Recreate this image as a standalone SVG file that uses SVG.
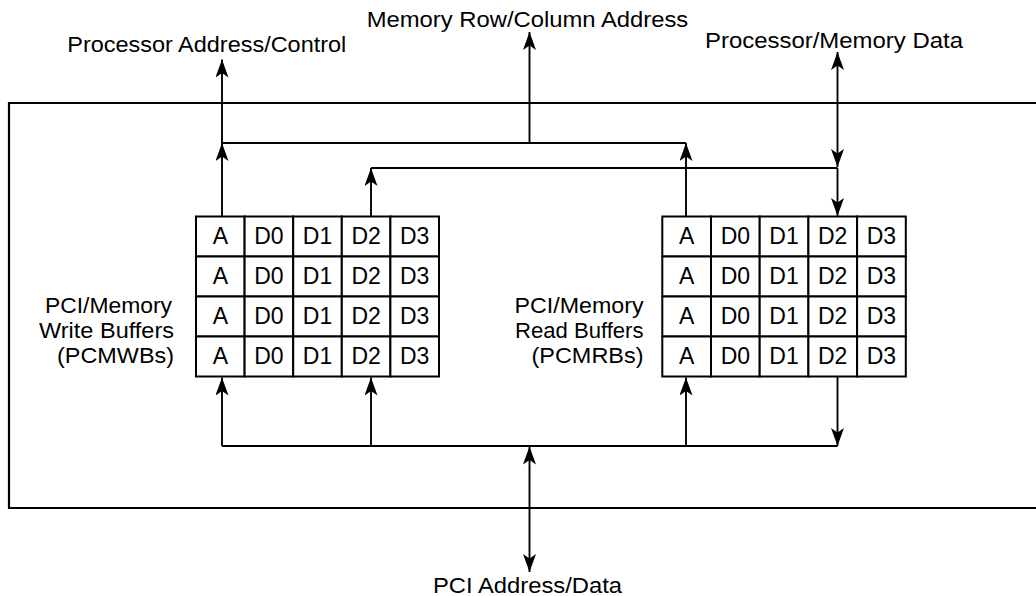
<svg xmlns="http://www.w3.org/2000/svg" width="1036" height="596" viewBox="0 0 1036 596">
<style>
text{font-family:"Liberation Sans",Arial,Helvetica,sans-serif;font-size:22px;fill:#000}
.cell{fill:#fff;stroke:#000;stroke-width:2}
.ct{text-anchor:middle;font-size:23px}
.lab{text-anchor:end}
.frame{fill:none;stroke:#000;stroke-width:2.2}
.c{fill:none;stroke:#000;stroke-width:1.9}
.a{marker-end:url(#ah)}
.d{marker-start:url(#ah);marker-end:url(#ah)}
</style>
<defs>
<marker id="ah" markerUnits="userSpaceOnUse" viewBox="0 0 18 13" refX="18" refY="6.5" markerWidth="18" markerHeight="13" orient="auto-start-reverse">
<path d="M0,0 L18,6.5 L0,13 L4.5,6.5 Z" fill="#000"/>
</marker>
</defs>
<rect width="1036" height="596" fill="#fff"/>
<g id="frame"><path class="frame" d="M1040,103 H9 V508 H1040"/></g>

<g id="write-buffers">
<g id="wb-grid">
<rect class="cell" x="196" y="216.5" width="48.6" height="40"/><rect class="cell" x="244.6" y="216.5" width="48.6" height="40"/><rect class="cell" x="293.2" y="216.5" width="48.6" height="40"/><rect class="cell" x="341.8" y="216.5" width="48.6" height="40"/><rect class="cell" x="390.4" y="216.5" width="48.6" height="40"/>
<rect class="cell" x="196" y="256.5" width="48.6" height="40"/><rect class="cell" x="244.6" y="256.5" width="48.6" height="40"/><rect class="cell" x="293.2" y="256.5" width="48.6" height="40"/><rect class="cell" x="341.8" y="256.5" width="48.6" height="40"/><rect class="cell" x="390.4" y="256.5" width="48.6" height="40"/>
<rect class="cell" x="196" y="296.5" width="48.6" height="40"/><rect class="cell" x="244.6" y="296.5" width="48.6" height="40"/><rect class="cell" x="293.2" y="296.5" width="48.6" height="40"/><rect class="cell" x="341.8" y="296.5" width="48.6" height="40"/><rect class="cell" x="390.4" y="296.5" width="48.6" height="40"/>
<rect class="cell" x="196" y="336.5" width="48.6" height="40"/><rect class="cell" x="244.6" y="336.5" width="48.6" height="40"/><rect class="cell" x="293.2" y="336.5" width="48.6" height="40"/><rect class="cell" x="341.8" y="336.5" width="48.6" height="40"/><rect class="cell" x="390.4" y="336.5" width="48.6" height="40"/>
</g>
<g>
<text class="ct" x="220.3" y="243.5">A</text><text class="ct" x="268.9" y="243.5">D0</text><text class="ct" x="317.5" y="243.5">D1</text><text class="ct" x="366.1" y="243.5">D2</text><text class="ct" x="414.7" y="243.5">D3</text>
<text class="ct" x="220.3" y="283.5">A</text><text class="ct" x="268.9" y="283.5">D0</text><text class="ct" x="317.5" y="283.5">D1</text><text class="ct" x="366.1" y="283.5">D2</text><text class="ct" x="414.7" y="283.5">D3</text>
<text class="ct" x="220.3" y="323.5">A</text><text class="ct" x="268.9" y="323.5">D0</text><text class="ct" x="317.5" y="323.5">D1</text><text class="ct" x="366.1" y="323.5">D2</text><text class="ct" x="414.7" y="323.5">D3</text>
<text class="ct" x="220.3" y="363.5">A</text><text class="ct" x="268.9" y="363.5">D0</text><text class="ct" x="317.5" y="363.5">D1</text><text class="ct" x="366.1" y="363.5">D2</text><text class="ct" x="414.7" y="363.5">D3</text>
</g>
<text class="lab" x="172" y="313" textLength="127" lengthAdjust="spacingAndGlyphs">PCI/Memory</text>
<text class="lab" x="174" y="338" textLength="135" lengthAdjust="spacingAndGlyphs">Write Buffers</text>
<text class="lab" x="174" y="363" textLength="117" lengthAdjust="spacingAndGlyphs">(PCMWBs)</text>
</g>

<g id="read-buffers">
<g id="rb-grid">
<rect class="cell" x="662.3" y="216.5" width="48.7" height="40"/><rect class="cell" x="711" y="216.5" width="48.7" height="40"/><rect class="cell" x="759.7" y="216.5" width="48.7" height="40"/><rect class="cell" x="808.4" y="216.5" width="48.7" height="40"/><rect class="cell" x="857.1" y="216.5" width="48.7" height="40"/>
<rect class="cell" x="662.3" y="256.5" width="48.7" height="40"/><rect class="cell" x="711" y="256.5" width="48.7" height="40"/><rect class="cell" x="759.7" y="256.5" width="48.7" height="40"/><rect class="cell" x="808.4" y="256.5" width="48.7" height="40"/><rect class="cell" x="857.1" y="256.5" width="48.7" height="40"/>
<rect class="cell" x="662.3" y="296.5" width="48.7" height="40"/><rect class="cell" x="711" y="296.5" width="48.7" height="40"/><rect class="cell" x="759.7" y="296.5" width="48.7" height="40"/><rect class="cell" x="808.4" y="296.5" width="48.7" height="40"/><rect class="cell" x="857.1" y="296.5" width="48.7" height="40"/>
<rect class="cell" x="662.3" y="336.5" width="48.7" height="40"/><rect class="cell" x="711" y="336.5" width="48.7" height="40"/><rect class="cell" x="759.7" y="336.5" width="48.7" height="40"/><rect class="cell" x="808.4" y="336.5" width="48.7" height="40"/><rect class="cell" x="857.1" y="336.5" width="48.7" height="40"/>
</g>
<g>
<text class="ct" x="686.6" y="243.5">A</text><text class="ct" x="735.4" y="243.5">D0</text><text class="ct" x="784" y="243.5">D1</text><text class="ct" x="832.7" y="243.5">D2</text><text class="ct" x="881.4" y="243.5">D3</text>
<text class="ct" x="686.6" y="283.5">A</text><text class="ct" x="735.4" y="283.5">D0</text><text class="ct" x="784" y="283.5">D1</text><text class="ct" x="832.7" y="283.5">D2</text><text class="ct" x="881.4" y="283.5">D3</text>
<text class="ct" x="686.6" y="323.5">A</text><text class="ct" x="735.4" y="323.5">D0</text><text class="ct" x="784" y="323.5">D1</text><text class="ct" x="832.7" y="323.5">D2</text><text class="ct" x="881.4" y="323.5">D3</text>
<text class="ct" x="686.6" y="363.5">A</text><text class="ct" x="735.4" y="363.5">D0</text><text class="ct" x="784" y="363.5">D1</text><text class="ct" x="832.7" y="363.5">D2</text><text class="ct" x="881.4" y="363.5">D3</text>
</g>
<text class="lab" x="643.5" y="313" textLength="129" lengthAdjust="spacingAndGlyphs">PCI/Memory</text>
<text class="lab" x="643.5" y="338" textLength="128.5" lengthAdjust="spacingAndGlyphs">Read Buffers</text>
<text class="lab" x="643.5" y="363" textLength="112" lengthAdjust="spacingAndGlyphs">(PCMRBs)</text>
</g>

<g id="processor-address-control"><text x="67.3" y="52" textLength="279" lengthAdjust="spacingAndGlyphs">Processor Address/Control</text></g>
<g id="memory-row-column-address"><text x="366.7" y="27" textLength="321.6" lengthAdjust="spacingAndGlyphs">Memory Row/Column Address</text></g>
<g id="processor-memory-data"><text x="705" y="47.5" textLength="258" lengthAdjust="spacingAndGlyphs">Processor/Memory Data</text></g>
<g id="pci-address-data"><text x="433" y="593" textLength="189" lengthAdjust="spacingAndGlyphs">PCI Address/Data</text></g>

<g id="connectors">
<line class="c a" x1="222" y1="216.5" x2="222" y2="143"/>
<line class="c a" x1="222" y1="143" x2="222" y2="59.5"/>
<line class="c" x1="222" y1="143" x2="686" y2="143"/>
<line class="c a" x1="686" y1="216.5" x2="686" y2="143"/>
<line class="c a" x1="529.5" y1="143" x2="529.5" y2="32"/>
<line class="c" x1="371" y1="168" x2="837.5" y2="168"/>
<line class="c a" x1="371" y1="216.5" x2="371" y2="168"/>
<line class="c d" x1="837.5" y1="52" x2="837.5" y2="167"/>
<line class="c a" x1="837.5" y1="168" x2="837.5" y2="216"/>
<line class="c" x1="222" y1="446" x2="837.5" y2="446"/>
<line class="c a" x1="222" y1="446" x2="222" y2="377.5"/>
<line class="c a" x1="371" y1="446" x2="371" y2="377.5"/>
<line class="c a" x1="686" y1="446" x2="686" y2="377.5"/>
<line class="c a" x1="837.5" y1="376.5" x2="837.5" y2="446"/>
<line class="c d" x1="529.5" y1="446.5" x2="529.5" y2="572"/>
</g>
</svg>
